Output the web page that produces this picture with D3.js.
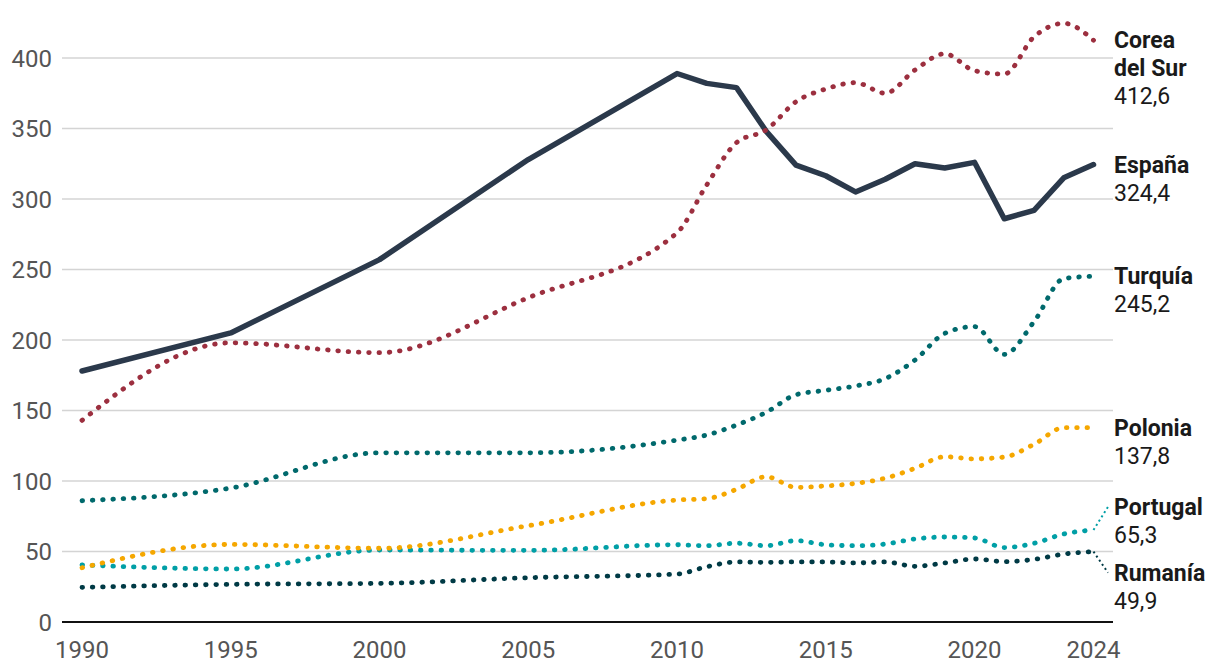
<!DOCTYPE html>
<html lang="es">
<head>
<meta charset="utf-8">
<script src="https://cdn.jsdelivr.net/npm/d3@7"></script>
<style>
  html, body { margin: 0; padding: 0; background: #fff; }
  svg { display: block; font-family: Roboto, "Noto Sans", sans-serif; }
  .grid line { stroke: #d4d4d4; stroke-width: 1.5; }
  .tick-label { fill: #555; font-size: 24px; }
  .lbl-name { fill: #1a1a1a; font-size: 23px; font-weight: 700; }
  .lbl-val { fill: #1a1a1a; font-size: 23px; }
</style>
</head>
<body>
<svg id="chart" width="1220" height="672"></svg>
<script>
// ─── Data ──────────────────────────────────────────────────────
const years = [1990, 1995, 2000, 2005, 2010, 2011, 2012, 2013, 2014, 2015, 2016,
  2017, 2018, 2019, 2020, 2021, 2022, 2023, 2024];

const espana   = [178, 205, 257, 328, 389, 382, 379, 348, 324, 316.5, 305, 314, 325, 322, 326, 286, 292, 315, 324.4];
const corea    = [143, 198, 191, 230, 276, 310, 340, 349, 369, 378, 382.5, 375, 391.5, 403, 391, 388.6, 415, 424.6, 412.6];
const turquia  = [86, 95, 120, 120, 129, 132.6, 139.7, 148.7, 161.2, 164.3, 167.4, 172.6, 185.8, 204.7, 209.5, 189.8, 213, 243.5, 245.2];
const polonia  = [38.5, 55, 52.3, 68.3, 86.5, 87.5, 94.1, 103, 95.5, 96.5, 98.3, 102, 109, 117.2, 115.7, 117, 126, 137.8, 137.8];
const portugal = [40.5, 37.6, 51, 50.8, 54.8, 54.1, 55.9, 54.1, 57.7, 54.8, 54.1, 55.3, 58.9, 60.3, 59.6, 52.8, 55.8, 62.4, 65.3];
const rumania  = [24.6, 26.7, 27.4, 31.4, 34, 39.2, 42.6, 42.3, 42.6, 42.6, 41.9, 42.6, 39.5, 41.9, 44.7, 42.8, 44.4, 48.2, 49.9];

const names  = ["Corea del Sur", "España", "Turquía", "Polonia", "Portugal", "Rumanía"];
const labels = ["412,6", "324,4", "245,2", "137,8", "65,3", "49,9"];

const yTicks = [0, 50, 100, 150, 200, 250, 300, 350, 400];
const xTicks = [1990, 1995, 2000, 2005, 2010, 2015, 2020, 2024];

// ─── Styling per series ────────────────────────────────────────
const series = [
  { name: names[0], label: labels[0], values: corea,    color: "#9c2f3f", solid: false, nudge: 0 },
  { name: names[1], label: labels[1], values: espana,   color: "#2b394b", solid: true,  nudge: 0 },
  { name: names[2], label: labels[2], values: turquia,  color: "#00696c", solid: false, nudge: 0 },
  { name: names[3], label: labels[3], values: polonia,  color: "#f5a700", solid: false, nudge: 0 },
  { name: names[4], label: labels[4], values: portugal, color: "#009fa6", solid: false, nudge: -23 },
  { name: names[5], label: labels[5], values: rumania,  color: "#003a45", solid: false, nudge: 21 }
];

// ─── Scales ────────────────────────────────────────────────────
const svg = d3.select("#chart");
const x = d3.scaleLinear().domain([1990, 2024]).range([82, 1093.5]);
const y = d3.scaleLinear().domain([0, 400]).range([622, 58]);
const gridX0 = 62, gridX1 = 1113;

// ─── Grid + axes ───────────────────────────────────────────────
svg.append("g").attr("class", "grid")
  .selectAll("line")
  .data(yTicks.filter((d) => d > 0))
  .join("line")
  .attr("x1", gridX0).attr("x2", gridX1)
  .attr("y1", (d) => y(d)).attr("y2", (d) => y(d));

svg.append("g")
  .selectAll("text")
  .data(yTicks)
  .join("text")
  .attr("class", "tick-label")
  .attr("x", 52)
  .attr("y", (d) => y(d))
  .attr("dy", "0.36em")
  .attr("text-anchor", "end")
  .text((d) => d);

svg.append("g")
  .selectAll("text")
  .data(xTicks)
  .join("text")
  .attr("class", "tick-label")
  .attr("x", (d) => x(d))
  .attr("y", 658)
  .attr("text-anchor", "middle")
  .text((d) => d);

// ─── Lines ─────────────────────────────────────────────────────
const lineSmooth = d3.line()
  .x((d, i) => x(years[i]))
  .y((d) => y(d))
  .curve(d3.curveMonotoneX);
const lineStraight = d3.line()
  .x((d, i) => x(years[i]))
  .y((d) => y(d));

svg.append("g")
  .selectAll("path")
  .data(series.slice().reverse())
  .join("path")
  .attr("fill", "none")
  .attr("stroke", (s) => s.color)
  .attr("stroke-width", (s) => s.solid ? 5.5 : 4.8)
  .attr("stroke-linecap", "round")
  .attr("stroke-linejoin", "round")
  .attr("stroke-dasharray", (s) => s.solid ? null : "0.6 9.7")
  .attr("d", (s) => (s.solid ? lineStraight : lineSmooth)(s.values));

// baseline
svg.append("line")
  .attr("x1", gridX0).attr("x2", gridX1)
  .attr("y1", y(0)).attr("y2", y(0))
  .attr("stroke", "#111").attr("stroke-width", 2);

// ─── End labels ────────────────────────────────────────────────
const lblX = 1114;
const last = years.length - 1;

series.filter((s) => s.nudge !== 0).forEach((s) => {
  const y0 = y(s.values[last]);
  svg.append("line")
    .attr("x1", x(2024)).attr("y1", y0)
    .attr("x2", lblX - 6).attr("y2", y0 + s.nudge)
    .attr("stroke", s.color).attr("stroke-width", 2)
    .attr("stroke-dasharray", "2 3");
});

series.forEach((s) => {
  const ly = y(s.values[last]) + s.nudge;
  const words = s.name === "Corea del Sur" ? ["Corea", "del Sur"] : [s.name];
  const t = svg.append("text").attr("x", lblX).attr("y", ly + 8);
  words.forEach((w, i) => {
    t.append("tspan").attr("class", "lbl-name")
      .attr("x", lblX).attr("dy", i === 0 ? 0 : 28).text(w);
  });
  t.append("tspan").attr("class", "lbl-val")
    .attr("x", lblX).attr("dy", 28).text(s.label);
});
</script>
</body>
</html>
